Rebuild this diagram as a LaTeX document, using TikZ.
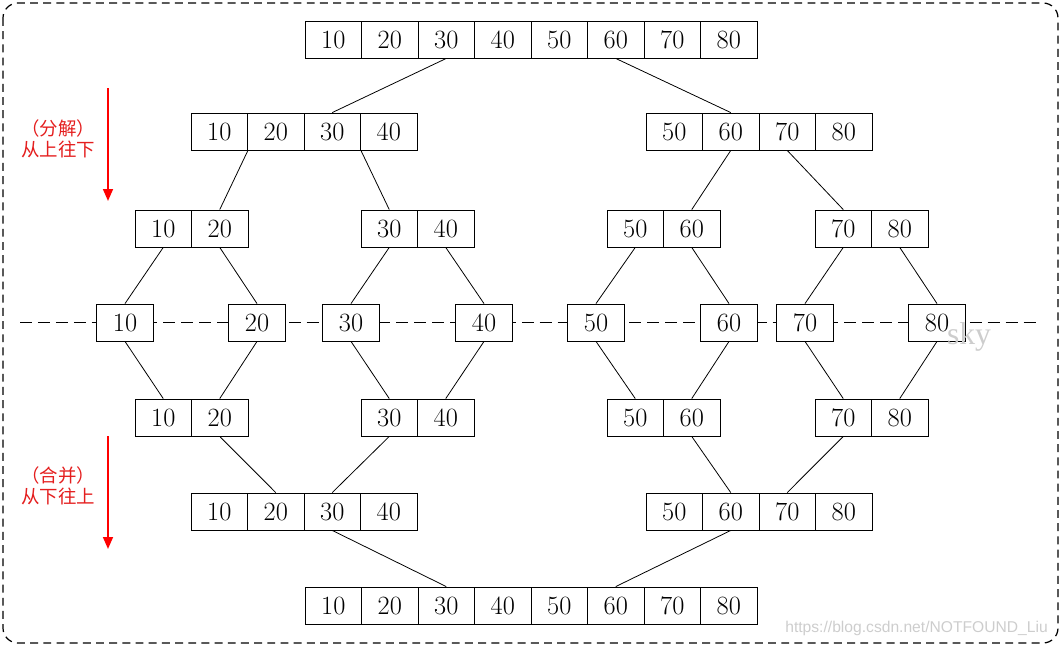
\documentclass[tikz,border=0pt]{standalone}
\usepackage{fontspec}
\newfontfamily\cjkfont{Noto Sans CJK SC}
\newfontfamily\urlfont{Liberation Sans}
\newfontfamily\wmfont{Liberation Serif}
\usetikzlibrary{arrows.meta,positioning}

\definecolor{labred}{RGB}{228,30,30}
\definecolor{wmgray}{RGB}{205,205,205}

% one row of joined cells: prefix, left x, centre y, values
\newcommand{\cellrow}[4]{%
  \foreach \v [count=\i] in {#4}
    \node[cell] (#1\v) at ({#2+56.5*(\i-0.5)},#3) {\v};}

\begin{document}
\begin{tikzpicture}[x=0.02cm, y=-0.02cm]
\tikzstyle{cell}=[draw, fill=white, line width=0.5pt, minimum width=1.13cm,
  minimum height=0.74cm, inner sep=0pt, font=\fontsize{15}{17}\selectfont]
\tikzstyle{lab}=[align=center, text=labred, font=\cjkfont\fontsize{10.5}{12}\selectfont]
\tikzstyle{darrow}=[-{Triangle[length=6.8pt, width=5.6pt]}, line width=1.1pt, red]
\tikzstyle{link}=[line width=0.45pt]
\useasboundingbox (0,0) rectangle (1062,646);

% frame and middle line
\coordinate (fnw) at (3,3);
\coordinate (fse) at (1058,643);
\draw[line width=0.7pt, dash pattern=on 4.5pt off 3pt, rounded corners=0.3cm] (fnw) rectangle (fse);
\coordinate (mlft) at (20,322);
\coordinate (mrgt) at (1040,322);
\draw[line width=0.55pt, dash pattern=on 6.8pt off 3.4pt] (mlft) -- (mrgt);

% split, top down
\cellrow{a}{305}{39.5}{10,20,30,40,50,60,70,80}
\cellrow{b}{191}{131.5}{10,20,30,40}
\cellrow{b}{646}{131.5}{50,60,70,80}
\cellrow{c}{135}{228.5}{10,20}
\cellrow{c}{361}{228.5}{30,40}
\cellrow{c}{607}{228.5}{50,60}
\cellrow{c}{815}{228.5}{70,80}
\foreach \v/\x in {10/125,20/257,30/351,40/484,50/596,60/729,70/805,80/937}
  \node[cell] (d\v) at (\x,322.5) {\v};
% merge, bottom up
\cellrow{e}{135}{417.5}{10,20}
\cellrow{e}{361}{417.5}{30,40}
\cellrow{e}{607}{417.5}{50,60}
\cellrow{e}{815}{417.5}{70,80}
\cellrow{f}{191}{511.5}{10,20,30,40}
\cellrow{f}{646}{511.5}{50,60,70,80}
\cellrow{g}{305}{605.5}{10,20,30,40,50,60,70,80}

\draw[link] (a30.south) -- (b30.north);
\draw[link] (a60.south) -- (b60.north);
\draw[link] (b10.south east) -- (c20.north);
\draw[link] (b30.south east) -- (c30.north);
\draw[link] (b60.south) -- (c60.north);
\draw[link] (b70.south) -- (c70.north);
\foreach \v in {10,20,...,80} {
  \draw[link] (c\v.south) -- (d\v.north);
  \draw[link] (d\v.south) -- (e\v.north);
}
\draw[link] (e20.south) -- (f20.north);
\draw[link] (e30.south) -- (f30.north);
\draw[link] (e60.south) -- (f60.north);
\draw[link] (e70.south) -- (f70.north);
\draw[link] (f30.south) -- (g30.north);
\draw[link] (f60.south) -- (g60.north);

% side notes
\node[lab] (split) at (58,138.5) {（分解）\\从上往下};
\coordinate (sa) at (108,88);
\coordinate (sb) at (108,201);
\draw[darrow] (sa) -- (sb);
\node[lab] (merge) at (58,486) {（合并）\\从下往上};
\coordinate (ma) at (108,436);
\coordinate (mb) at (108,549);
\draw[darrow] (ma) -- (mb);

% watermarks
\node[text=wmgray, font=\wmfont\fontsize{18}{20}\selectfont] (sky) at (969,337) {sky};
\node[anchor=east, text=wmgray, font=\urlfont\fontsize{8.9}{10}\selectfont] (url) at (1054,628) {https://blog.csdn.net/NOTFOUND\_Liu};
\end{tikzpicture}
\end{document}
